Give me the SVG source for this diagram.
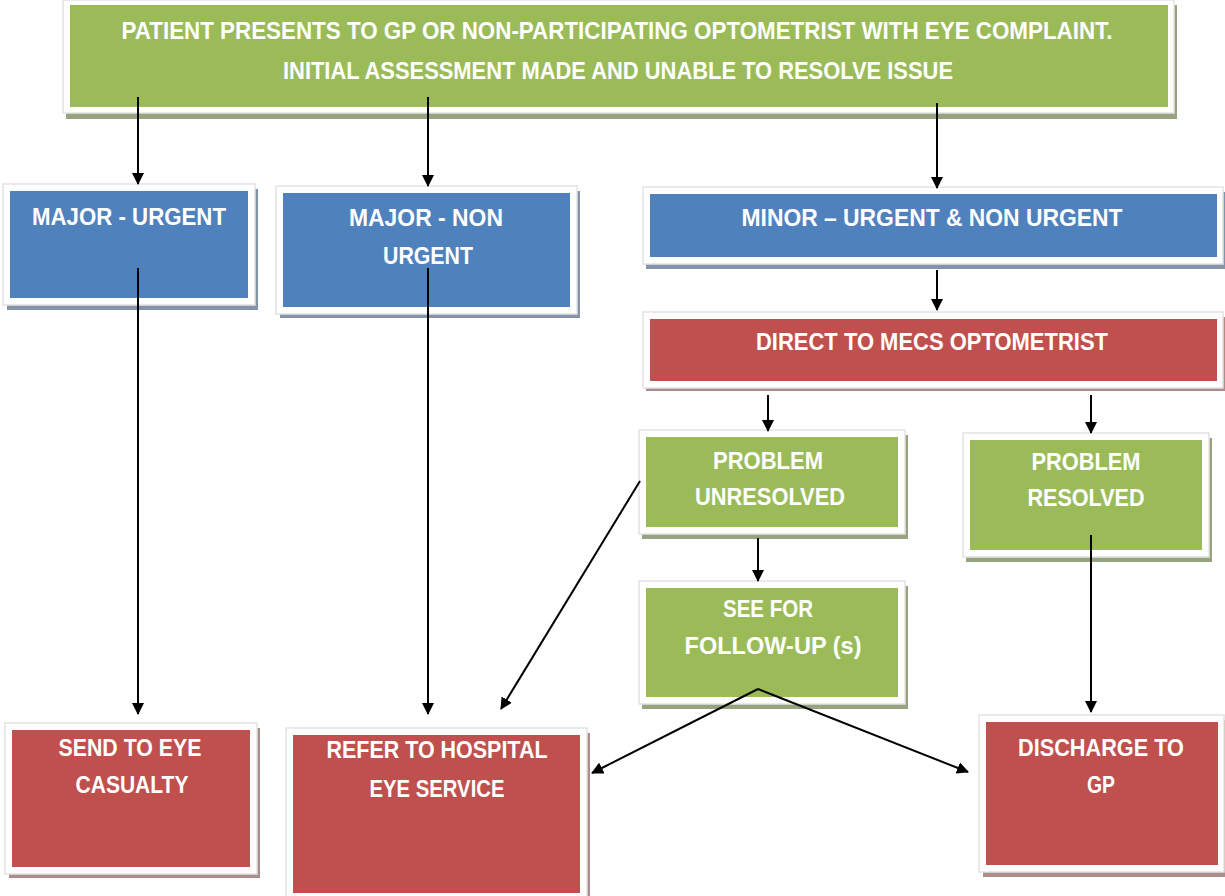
<svg xmlns="http://www.w3.org/2000/svg" width="1225" height="896" viewBox="0 0 1225 896">
<defs>
<style>
.frame{fill:#ffffff;stroke:#e3e3e3;stroke-width:1.5}
.g{fill:#9BBB59}.b{fill:#4F81BD}.r{fill:#C0504D}
.gs{fill:#97a37f}.bs{fill:#8593a8}.rs{fill:#ae8c8b}
.t{font-family:"Liberation Sans",Arial,sans-serif;font-weight:bold;font-size:23px;fill:#ffffff;text-anchor:middle;dominant-baseline:central}
.c{stroke:#000;stroke-width:2;fill:none;marker-end:url(#ah)}
</style>
<marker id="ah" viewBox="0 0 12 12" refX="11" refY="6" markerWidth="12" markerHeight="12" markerUnits="userSpaceOnUse" orient="auto">
<path d="M0,0 L12,6 L0,12 Z" fill="#000"/>
</marker>
</defs>
<rect width="1225" height="896" fill="#ffffff"/>

<g id="start">
<rect class="gs" x="66" y="5" width="1111" height="114"/>
<rect class="frame" x="63" y="0" width="1111" height="113"/>
<rect class="g" x="70" y="5" width="1098" height="102"/>
<text class="t" x="617" y="31" textLength="991" lengthAdjust="spacingAndGlyphs">PATIENT PRESENTS TO GP OR NON-PARTICIPATING OPTOMETRIST WITH EYE COMPLAINT.</text>
<text class="t" x="618" y="71" textLength="670" lengthAdjust="spacingAndGlyphs">INITIAL ASSESSMENT MADE AND UNABLE TO RESOLVE ISSUE</text>
</g>

<g id="major-urgent">
<rect class="bs" x="7" y="189" width="251" height="121"/>
<rect class="frame" x="3" y="184" width="252" height="121"/>
<rect class="b" x="10" y="191" width="238" height="107"/>
<text class="t" x="129" y="217" textLength="194" lengthAdjust="spacingAndGlyphs">MAJOR - URGENT</text>
</g>

<g id="major-non-urgent">
<rect class="bs" x="280" y="191" width="300" height="127"/>
<rect class="frame" x="276" y="186" width="301" height="128"/>
<rect class="b" x="283" y="193" width="287" height="114"/>
<text class="t" x="426" y="218" textLength="154" lengthAdjust="spacingAndGlyphs">MAJOR - NON</text>
<text class="t" x="428" y="256" textLength="90" lengthAdjust="spacingAndGlyphs">URGENT</text>
</g>

<g id="minor">
<rect class="bs" x="646" y="192" width="579" height="77"/>
<rect class="frame" x="643" y="187" width="580" height="77"/>
<rect class="b" x="650" y="194" width="567" height="63"/>
<text class="t" x="932" y="218" textLength="381" lengthAdjust="spacingAndGlyphs">MINOR – URGENT &amp; NON URGENT</text>
</g>

<g id="direct-mecs">
<rect class="rs" x="646" y="317" width="579" height="74"/>
<rect class="frame" x="643" y="312" width="580" height="76"/>
<rect class="r" x="650" y="319" width="567" height="62"/>
<text class="t" x="932" y="342" textLength="352" lengthAdjust="spacingAndGlyphs">DIRECT TO MECS OPTOMETRIST</text>
</g>

<g id="problem-unresolved">
<rect class="gs" x="642" y="435" width="266" height="104"/>
<rect class="frame" x="639" y="430" width="266" height="104"/>
<rect class="g" x="646" y="437" width="252" height="90"/>
<text class="t" x="768" y="461" textLength="110" lengthAdjust="spacingAndGlyphs">PROBLEM</text>
<text class="t" x="770" y="497" textLength="150" lengthAdjust="spacingAndGlyphs">UNRESOLVED</text>
</g>

<g id="problem-resolved">
<rect class="gs" x="966" y="438" width="246" height="124"/>
<rect class="frame" x="963" y="433" width="246" height="124"/>
<rect class="g" x="970" y="440" width="232" height="110"/>
<text class="t" x="1086" y="462" textLength="109" lengthAdjust="spacingAndGlyphs">PROBLEM</text>
<text class="t" x="1086" y="498" textLength="117" lengthAdjust="spacingAndGlyphs">RESOLVED</text>
</g>

<g id="follow-up">
<rect class="gs" x="642" y="586" width="266" height="123"/>
<rect class="frame" x="639" y="581" width="266" height="123"/>
<rect class="g" x="646" y="588" width="252" height="109"/>
<text class="t" x="768" y="609" textLength="90" lengthAdjust="spacingAndGlyphs">SEE FOR</text>
<text class="t" x="773" y="646" textLength="177" lengthAdjust="spacingAndGlyphs">FOLLOW-UP (s)</text>
</g>

<g id="eye-casualty">
<rect class="rs" x="9" y="728" width="251" height="150"/>
<rect class="frame" x="5" y="723" width="252" height="151"/>
<rect class="r" x="12" y="730" width="238" height="137"/>
<text class="t" x="130" y="748" textLength="143" lengthAdjust="spacingAndGlyphs">SEND TO EYE</text>
<text class="t" x="132" y="785" textLength="113" lengthAdjust="spacingAndGlyphs">CASUALTY</text>
</g>

<g id="hospital-eye">
<rect class="rs" x="290" y="733" width="300" height="170"/>
<rect class="frame" x="286" y="728" width="301" height="172"/>
<rect class="r" x="293" y="735" width="287" height="158"/>
<text class="t" x="437" y="750" textLength="221" lengthAdjust="spacingAndGlyphs">REFER TO HOSPITAL</text>
<text class="t" x="437" y="789" textLength="135" lengthAdjust="spacingAndGlyphs">EYE SERVICE</text>
</g>

<g id="discharge">
<rect class="rs" x="983" y="720" width="242" height="157"/>
<rect class="frame" x="979" y="715" width="245" height="157"/>
<rect class="r" x="986" y="722" width="232" height="143"/>
<text class="t" x="1101" y="748" textLength="166" lengthAdjust="spacingAndGlyphs">DISCHARGE TO</text>
<text class="t" x="1101" y="785" textLength="28" lengthAdjust="spacingAndGlyphs">GP</text>
</g>

<g id="connectors">
<line class="c" x1="138" y1="97" x2="138" y2="184"/>
<line class="c" x1="428" y1="97" x2="428" y2="186"/>
<line class="c" x1="937" y1="103" x2="937" y2="188"/>
<line class="c" x1="937" y1="270" x2="937" y2="310"/>
<line class="c" x1="768" y1="395" x2="768" y2="431"/>
<line class="c" x1="1091" y1="395" x2="1091" y2="433"/>
<line class="c" x1="758" y1="538" x2="758" y2="581"/>
<line class="c" x1="138" y1="268" x2="138" y2="714"/>
<line class="c" x1="428" y1="268" x2="428" y2="714"/>
<line class="c" x1="640" y1="481" x2="501" y2="709"/>
<line class="c" x1="1091" y1="535" x2="1091" y2="712"/>
<line class="c" x1="758" y1="689" x2="592" y2="773"/>
<line class="c" x1="758" y1="689" x2="968" y2="772"/>
</g>
</svg>
